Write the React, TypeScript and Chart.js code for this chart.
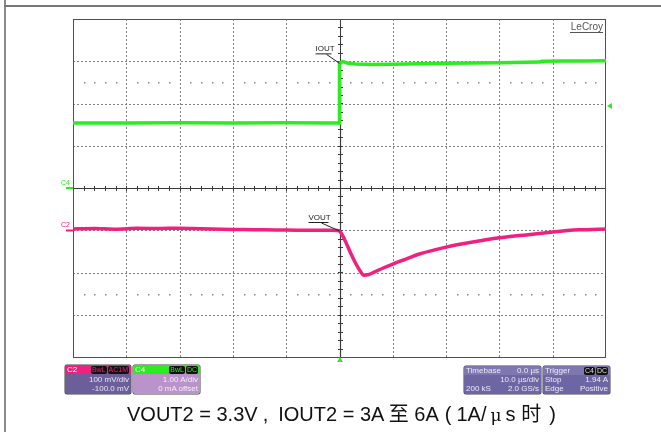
import React, { useEffect, useRef } from "react";
import { Chart, registerables } from "chart.js";
Chart.register(...registerables);

// Time axis: 10 µs/div, trigger at centre
const timeMinUs = -50;
const timeMaxUs = 50;
// Vertical position in screen divisions (8 divisions, centre = 0)
const divMin = -4;
const divMax = 4;

// C4: IOUT2 trace (divisions)
const ioutTimeUs = [-50, -40, -30, -20, -10, -2, 0, 0, 0.6, 1.5, 3, 6, 10, 15, 20, 25, 30, 35, 37.5, 38, 42, 46, 50];
const ioutDiv = [1.54, 1.54, 1.545, 1.54, 1.545, 1.54, 1.54, 2.95, 2.99, 2.96, 2.935, 2.925, 2.93, 2.94, 2.95, 2.96, 2.965, 2.975, 2.98, 3.0, 3.005, 3.005, 3.01];

// C2: VOUT2 trace (divisions)
const voutTimeUs = [-50, -46, -42, -38, -34, -30, -26, -22, -18, -14, -10, -6, -2, 0, 1, 2, 3, 4, 4.5, 5.5, 6.5, 8, 10, 12, 15, 20, 25, 30, 35, 40, 45, 50];
const voutDiv = [-0.97, -0.96, -0.975, -0.955, -0.96, -0.95, -0.965, -0.975, -0.985, -0.99, -0.995, -1.0, -1.0, -1.018, -1.23, -1.515, -1.775, -1.99, -2.06, -2.047, -1.99, -1.905, -1.8, -1.704, -1.562, -1.4, -1.28, -1.18, -1.11, -1.04, -0.99, -0.97];

const GREEN = "#2bec1e";
const PINK = "#f0207f";

const scopePlugin = {
  id: "scope",
  beforeDatasetsDraw(chart: any) {
    const { ctx, chartArea: a, scales } = chart;
    const xs = scales.x;
    const ys = scales.y;
    ctx.save();
    // dashed grid
    ctx.strokeStyle = "#808080";
    ctx.lineWidth = 1;
    ctx.setLineDash([2, 2]);
    for (let t = timeMinUs + 10; t < timeMaxUs; t += 10) {
      if (t === 0) continue;
      const x = Math.round(xs.getPixelForValue(t)) + 0.5;
      ctx.beginPath();
      ctx.moveTo(x, a.top);
      ctx.lineTo(x, a.bottom);
      ctx.stroke();
    }
    for (let d = divMin + 1; d < divMax; d += 1) {
      if (d === 0) continue;
      const y = Math.round(ys.getPixelForValue(d)) + 0.5;
      ctx.beginPath();
      ctx.moveTo(a.left, y);
      ctx.lineTo(a.right, y);
      ctx.stroke();
    }
    ctx.setLineDash([]);
    // dotted rows at +/-2.5 div
    ctx.fillStyle = "#8a8a8a";
    for (const d of [2.5, -2.5]) {
      const y = Math.round(ys.getPixelForValue(d));
      for (let t = timeMinUs + 2; t < timeMaxUs; t += 2) {
        if (t % 10 === 0) continue;
        const x = Math.round(xs.getPixelForValue(t));
        ctx.fillRect(x, y, 1.5, 1.5);
      }
    }
    // trigger position light line
    const x0 = Math.round(xs.getPixelForValue(0));
    ctx.fillStyle = "#b9f5b2";
    ctx.fillRect(x0 - 0.5, ys.getPixelForValue(2.8), 2, a.bottom - ys.getPixelForValue(2.8));
    // centre axes with ticks
    ctx.strokeStyle = "#3a3a3a";
    ctx.lineWidth = 1;
    const yc = Math.round(ys.getPixelForValue(0)) + 0.5;
    const xc = x0 + 0.5;
    ctx.beginPath();
    ctx.moveTo(a.left, yc);
    ctx.lineTo(a.right, yc);
    ctx.moveTo(xc, a.top);
    ctx.lineTo(xc, a.bottom);
    ctx.stroke();
    ctx.beginPath();
    for (let t = timeMinUs + 2; t < timeMaxUs; t += 2) {
      const x = Math.round(xs.getPixelForValue(t)) + 0.5;
      ctx.moveTo(x, yc - 2.5);
      ctx.lineTo(x, yc + 2.5);
    }
    for (let d = divMin + 0.2; d < divMax - 0.01; d += 0.2) {
      const y = Math.round(ys.getPixelForValue(d)) + 0.5;
      ctx.moveTo(xc - 2.5, y);
      ctx.lineTo(xc + 2.5, y);
    }
    ctx.stroke();
    // border
    ctx.strokeStyle = "#505050";
    ctx.strokeRect(Math.round(a.left) + 0.5, Math.round(a.top) + 0.5, Math.round(a.right - a.left) - 1, Math.round(a.bottom - a.top));
    ctx.restore();
  },
  afterDatasetsDraw(chart: any) {
    const { ctx, chartArea: a, scales } = chart;
    const xs = scales.x;
    const ys = scales.y;
    const x0 = xs.getPixelForValue(0);
    ctx.save();
    // labels IOUT / VOUT
    ctx.font = "8px 'Liberation Sans', Arial, sans-serif";
    ctx.fillStyle = "#222";
    ctx.strokeStyle = "#222";
    ctx.lineWidth = 1;
    const yI = ys.getPixelForValue(ioutDiv[7]);
    ctx.textBaseline = "alphabetic";
    ctx.fillText("IOUT", x0 - 24, yI - 12);
    ctx.beginPath();
    ctx.moveTo(x0 - 24, yI - 9.5);
    ctx.lineTo(x0 - 8, yI - 9.5);
    ctx.moveTo(x0 - 13, yI - 9);
    ctx.lineTo(x0, yI);
    ctx.stroke();
    const yV = ys.getPixelForValue(voutDiv[13]);
    ctx.fillText("VOUT", x0 - 31, yV - 11);
    ctx.beginPath();
    ctx.moveTo(x0 - 31, yV - 8.5);
    ctx.lineTo(x0 - 11, yV - 8.5);
    ctx.moveTo(x0 - 18, yV - 8);
    ctx.lineTo(x0, yV);
    ctx.stroke();
    // channel markers on left
    ctx.font = "7px 'Liberation Sans', Arial, sans-serif";
    const yC4 = ys.getPixelForValue(0);
    ctx.fillStyle = GREEN;
    ctx.fillText("C4", a.left - 12, yC4 - 3);
    ctx.fillRect(a.left - 7, yC4 - 1, 7, 2);
    const yC2 = ys.getPixelForValue(voutDiv[0]);
    ctx.fillStyle = PINK;
    ctx.fillText("C2", a.left - 12, yC2 - 2);
    ctx.fillRect(a.left - 7, yC2 + 0.5, 7, 2);
    // trigger level marker on right
    const yT = ys.getPixelForValue(1.94);
    ctx.fillStyle = GREEN;
    ctx.beginPath();
    ctx.moveTo(a.right + 1, yT);
    ctx.lineTo(a.right + 6, yT - 3);
    ctx.lineTo(a.right + 6, yT + 3);
    ctx.closePath();
    ctx.fill();
    // trigger position marker at bottom
    ctx.fillStyle = "#3de03a";
    ctx.beginPath();
    ctx.moveTo(x0 + 0.5, a.bottom + 0);
    ctx.lineTo(x0 - 2.5, a.bottom + 5);
    ctx.lineTo(x0 + 3.5, a.bottom + 5);
    ctx.closePath();
    ctx.fill();
    // LeCroy
    ctx.font = "10px 'Liberation Sans', Arial, sans-serif";
    ctx.fillStyle = "#555";
    ctx.textAlign = "right";
    ctx.fillText("LeCroy", a.right - 3, a.top + 11);
    ctx.fillRect(a.right - 36, a.top + 13, 33, 1);
    ctx.restore();
  },
};

function Badge({ text, color }: { text: string; color: string }) {
  return (
    <span
      style={{
        background: "#111",
        color,
        borderRadius: 2,
        padding: "0 1px",
        marginLeft: 1,
        fontSize: 7,
        lineHeight: "8px",
        display: "inline-block",
      }}
    >
      {text}
    </span>
  );
}

const boxFont = "'Liberation Sans', Arial, sans-serif";

function Row({ l, r, h = 9, bg }: { l?: React.ReactNode; r?: React.ReactNode; h?: number; bg?: string }) {
  return (
    <div style={{ display: "flex", justifyContent: "space-between", alignItems: "center", height: h, padding: "0 2px", background: bg }}>
      <span>{l}</span>
      <span>{r}</span>
    </div>
  );
}

export default function App() {
  const ref = useRef<HTMLCanvasElement | null>(null);
  useEffect(() => {
    if (!ref.current) return;
    const chart = new Chart(ref.current, {
      type: "line",
      data: {
        datasets: [
          {
            label: "IOUT2",
            data: ioutTimeUs.map((t, i) => ({ x: t, y: ioutDiv[i] })),
            borderColor: GREEN,
            borderWidth: 3.5,
            pointRadius: 0,
            tension: 0,
          },
          {
            label: "VOUT2",
            data: voutTimeUs.map((t, i) => ({ x: t, y: voutDiv[i] })),
            borderColor: PINK,
            borderWidth: 3.5,
            pointRadius: 0,
            tension: 0.2,
          },
        ],
      },
      options: {
        animation: false,
        responsive: false,
        devicePixelRatio: 1,
        layout: { padding: { left: 73, top: 19, right: 55, bottom: 75 } },
        plugins: { legend: { display: false }, tooltip: { enabled: false } },
        scales: {
          x: { type: "linear", min: timeMinUs, max: timeMaxUs, display: false },
          y: { type: "linear", min: divMin, max: divMax, display: false },
        },
      },
      plugins: [scopePlugin],
    });
    return () => chart.destroy();
  }, []);

  const boxBase: React.CSSProperties = {
    position: "absolute",
    top: 365,
    height: 29,
    borderRadius: 2,
    overflow: "hidden",
    fontFamily: boxFont,
    fontSize: 8,
    lineHeight: "9px",
    boxShadow: "0 0 0 0.5px #444",
  };

  const sp = (w: number) => <span style={{ display: "inline-block", width: w }} />;

  return (
    <div style={{ position: "absolute", left: 0, top: 0, width: 661, height: 432, background: "#fff", overflow: "hidden" }}>
      <div style={{ position: "absolute", left: 4, top: 0, width: 2, height: 432, background: "#8a8a8a" }} />
      <div style={{ position: "absolute", left: 4, top: 5, width: 657, height: 2, background: "#777" }} />
      <canvas ref={ref} width={661} height={432} style={{ position: "absolute", left: 0, top: 0 }} />
      {/* C2 box */}
      <div style={{ ...boxBase, left: 65, width: 66, background: "#6c5f99", color: "#e8e2f4" }}>
        <Row h={9} bg={PINK} l={<span style={{ color: "#fff" }}>C2</span>} r={<><Badge text="BwL" color={PINK} /><Badge text="AC1M" color={PINK} /></>} />
        <div style={{ textAlign: "right", padding: "1px 2px 0" }}>100 mV/div</div>
        <div style={{ textAlign: "right", padding: "0 2px" }}>-100.0 mV</div>
      </div>
      {/* C4 box */}
      <div style={{ ...boxBase, left: 133, width: 67, background: "#b993c9", color: "#f4eef8" }}>
        <Row h={9} bg={GREEN} l={<span style={{ color: "#fff" }}>C4</span>} r={<><Badge text="BwL" color={GREEN} /><Badge text="DC" color={GREEN} /></>} />
        <div style={{ textAlign: "right", padding: "1px 2px 0" }}>1.00 A/div</div>
        <div style={{ textAlign: "right", padding: "0 2px" }}>0 mA offset</div>
      </div>
      {/* Timebase box */}
      <div style={{ ...boxBase, left: 464, width: 77, top: 366, height: 28, background: "#6c66a3", color: "#ece8f6" }}>
        <Row h={9} bg="#7d78b0" l="Timebase" r="0.0 µs" />
        <Row h={9} l="" r="10.0 µs/div" />
        <Row h={9} l="200 kS" r="2.0 GS/s" />
      </div>
      {/* Trigger box */}
      <div style={{ ...boxBase, left: 543, width: 67, top: 366, height: 28, background: "#6c66a3", color: "#ece8f6" }}>
        <Row h={9} bg="#7d78b0" l="Trigger" r={<><Badge text="C4" color="#ddd" /><Badge text="DC" color="#ddd" /></>} />
        <Row h={9} l="Stop" r="1.94 A" />
        <Row h={9} l="Edge" r="Positive" />
      </div>
      {/* Caption */}
      <div
        style={{
          position: "absolute",
          left: 127,
          top: 401,
          fontFamily: "'Liberation Sans', Arial, 'Noto Sans CJK SC', sans-serif",
          fontSize: 20,
          lineHeight: "24px",
          color: "#111",
          whiteSpace: "nowrap",
        }}
      >
        VOUT2 = 3.3V{sp(5)},{sp(10)}IOUT2 = 3A <span style={{ fontFamily: "'Noto Sans CJK SC'" }}>至</span> 6A{sp(6)}({sp(5)}1A/{sp(4)}<span style={{ fontFamily: "'DejaVu Serif', serif", fontSize: 17 }}>μ</span>{sp(4)}s <span style={{ fontFamily: "'Noto Sans CJK SC'" }}>时</span>{sp(8)})
      </div>
    </div>
  );
}
